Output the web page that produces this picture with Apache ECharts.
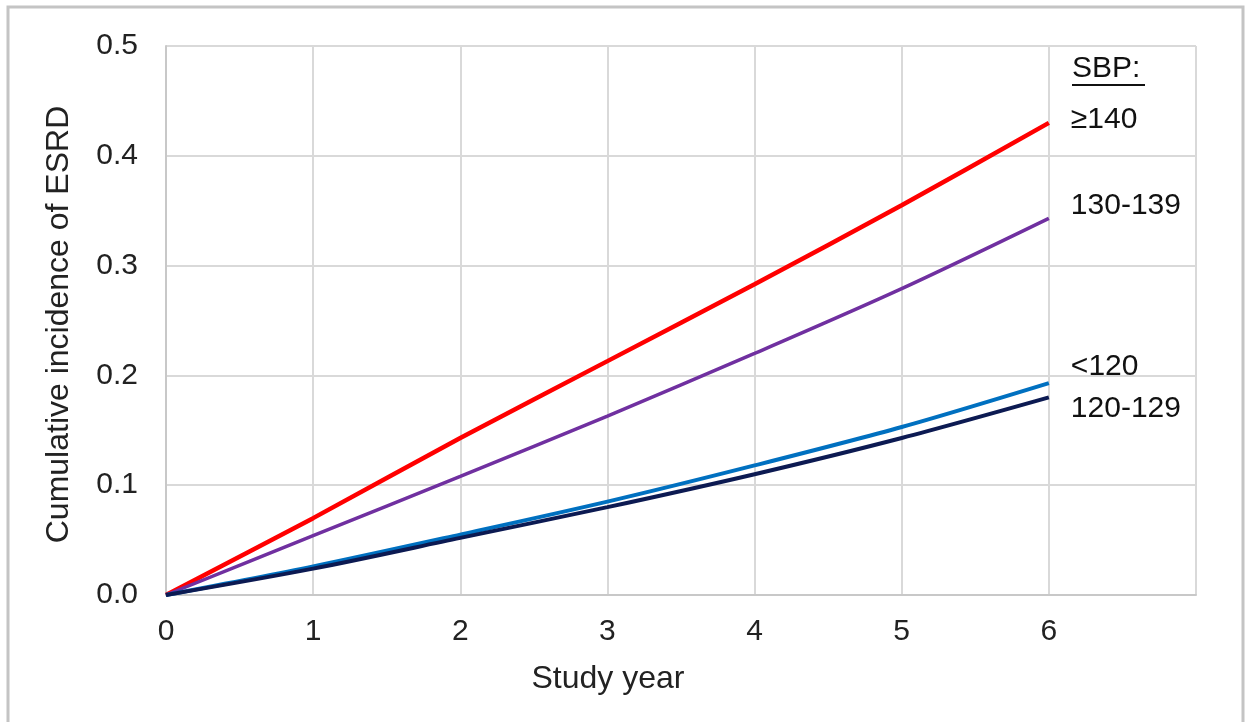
<!DOCTYPE html>
<html><head><meta charset="utf-8">
<script src="https://cdn.jsdelivr.net/npm/echarts@6/dist/echarts.min.js"></script>
<style>html,body{margin:0;padding:0;background:#fff}#c{width:1253px;height:722px}</style>
</head><body><div id="c"></div>
<script>
const years = [0, 1, 2, 3, 4, 5, 6];
const sbp140 = [0, 0.070, 0.143, 0.213, 0.283, 0.355, 0.430];
const sbp130 = [0, 0.054, 0.108, 0.163, 0.220, 0.279, 0.343];
const sbpLt120 = [0, 0.026, 0.055, 0.085, 0.118, 0.153, 0.193];
const sbp120 = [0, 0.024, 0.052, 0.080, 0.110, 0.143, 0.180];
const seriesNames = ['≥140', '130-139', '<120', '120-129'];
const yTicks = [0, 0.1, 0.2, 0.3, 0.4, 0.5];

const FONT = 'Liberation Sans, Arial, sans-serif';
const FS = 30;
const FT = 32;
function mk(name, vals, color, width, offY) {
  return {
    name, type: 'line', smooth: 0.3, symbol: 'none',
    data: years.map((x, i) => [x, vals[i]]),
    lineStyle: { color, width },
    endLabel: { show: true, formatter: name, color: '#111', fontFamily: FONT, fontSize: FS, offset: [14, offY] },
    z: 3
  };
}
const chart = echarts.init(document.getElementById('c'), null, { renderer: 'canvas' });
chart.setOption({
  animation: false,
  backgroundColor: '#fff',
  grid: { left: 166, top: 46, right: 57, bottom: 127, containLabel: false },
  xAxis: {
    type: 'value', min: 0, max: 7, interval: 1,
    name: 'Study year', nameLocation: 'middle', nameGap: 68,
    nameTextStyle: { fontFamily: FONT, fontSize: FT, color: '#222', padding: [0, 146, 0, 0] },
    axisLine: { show: true, lineStyle: { color: '#c8c8c8', width: 2 } },
    axisTick: { show: false },
    axisLabel: { fontFamily: FONT, fontSize: FS, color: '#222', margin: 22, formatter: v => v === 7 ? '' : String(v) },
    splitLine: { show: true, lineStyle: { color: '#d9d9d9', width: 2 } }
  },
  yAxis: {
    type: 'value', min: 0, max: 0.5, interval: 0.1,
    name: 'Cumulative incidence of ESRD', nameLocation: 'middle', nameGap: 91,
    nameTextStyle: { fontFamily: FONT, fontSize: FT, color: '#222', padding: [0, 8, 0, 0] },
    axisLine: { show: true, lineStyle: { color: '#c8c8c8', width: 2 } },
    axisTick: { show: false },
    axisLabel: { fontFamily: FONT, fontSize: FS, color: '#222', margin: 28, formatter: v => v.toFixed(1) },
    splitLine: { show: true, lineStyle: { color: '#d9d9d9', width: 2 } }
  },
  graphic: [
    { type: 'rect', shape: { x: 8, y: 7, width: 1235, height: 730 }, style: { fill: 'none', stroke: '#c4c4c4', lineWidth: 3 }, silent: true },
    { type: 'text', left: 1072, top: 54, style: { text: 'SBP:', font: FS + 'px ' + FONT, fill: '#111' } },
    { type: 'line', shape: { x1: 1072, y1: 85, x2: 1145, y2: 85 }, style: { stroke: '#111', lineWidth: 2 } }
  ],
  series: [
    mk(seriesNames[0], sbp140, '#ff0000', 4.5, -3),
    mk(seriesNames[1], sbp130, '#7030a0', 3.5, -13),
    mk(seriesNames[2], sbpLt120, '#0070c0', 4, -16),
    mk(seriesNames[3], sbp120, '#0c1a52', 4, 11)
  ]
});
</script></body></html>
